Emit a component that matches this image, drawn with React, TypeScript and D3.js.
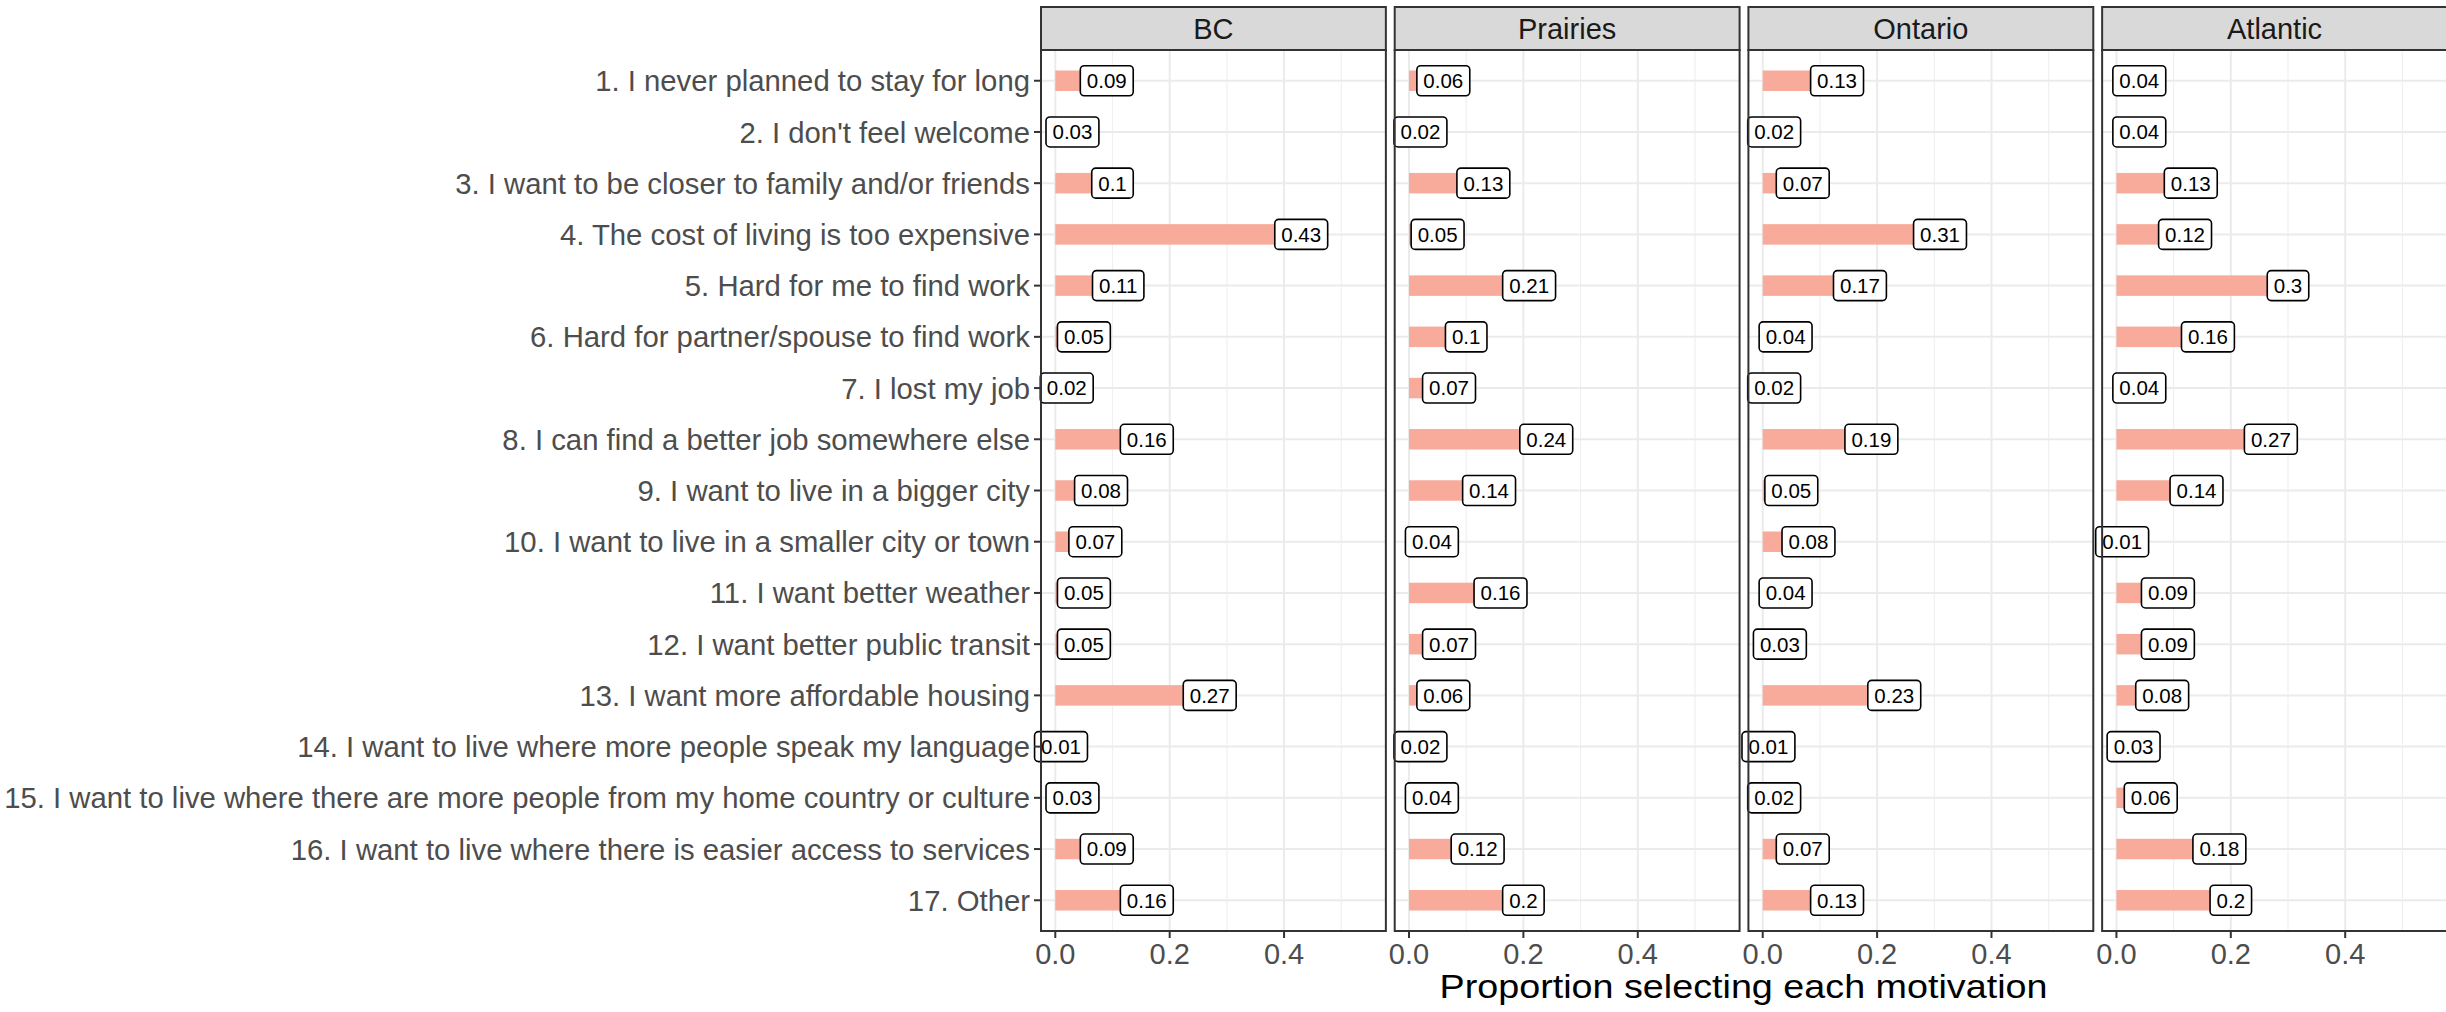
import { useEffect, useRef } from "react";
import * as d3 from "d3";

// categories (top to bottom)
const motivations = [
  "1. I never planned to stay for long",
  "2. I don't feel welcome",
  "3. I want to be closer to family and/or friends",
  "4. The cost of living is too expensive",
  "5. Hard for me to find work",
  "6. Hard for partner/spouse to find work",
  "7. I lost my job",
  "8. I can find a better job somewhere else",
  "9. I want to live in a bigger city",
  "10. I want to live in a smaller city or town",
  "11. I want better weather",
  "12. I want better public transit",
  "13. I want more affordable housing",
  "14. I want to live where more people speak my language",
  "15. I want to live where there are more people from my home country or culture",
  "16. I want to live where there is easier access to services",
  "17. Other",
];

const regions = ["BC", "Prairies", "Ontario", "Atlantic"];

const bcValues = [0.09, 0.03, 0.1, 0.43, 0.11, 0.05, 0.02, 0.16, 0.08, 0.07, 0.05, 0.05, 0.27, 0.01, 0.03, 0.09, 0.16];
const prairiesValues = [0.06, 0.02, 0.13, 0.05, 0.21, 0.1, 0.07, 0.24, 0.14, 0.04, 0.16, 0.07, 0.06, 0.02, 0.04, 0.12, 0.2];
const ontarioValues = [0.13, 0.02, 0.07, 0.31, 0.17, 0.04, 0.02, 0.19, 0.05, 0.08, 0.04, 0.03, 0.23, 0.01, 0.02, 0.07, 0.13];
const atlanticValues = [0.04, 0.04, 0.13, 0.12, 0.3, 0.16, 0.04, 0.27, 0.14, 0.01, 0.09, 0.09, 0.08, 0.03, 0.06, 0.18, 0.2];

const xTicks = [0, 0.2, 0.4];
const xMinorTicks = [0.1, 0.3, 0.5];
const axisTitle = "Proportion selecting each motivation";

export default function App() {
  const ref = useRef<SVGSVGElement>(null);

  useEffect(() => {
    const svg = d3.select(ref.current);
    svg.selectAll("*").remove();

    const font = "'Liberation Sans', Arial, sans-serif";
    const stripTop = 7;
    const panelTop = 50;
    const panelBottom = 931;

    const seriesByRegion: Record<string, number[]> = {
      BC: bcValues,
      Prairies: prairiesValues,
      Ontario: ontarioValues,
      Atlantic: atlanticValues,
    };

    // panels
    const panelScale = d3.scaleBand<string>()
      .domain(regions)
      .range([1041, 2447])
      .paddingInner(0.025);
    const panelW = panelScale.bandwidth();

    const yScale = d3.scaleBand<string>()
      .domain(motivations)
      .range([panelTop, panelBottom])
      .paddingInner(0.6)
      .paddingOuter(0.4);
    const yMid = (m: string) => (yScale(m) as number) + yScale.bandwidth() / 2;

    regions.forEach((region) => {
      const left = panelScale(region) as number;
      const xScale = d3.scaleLinear().domain([-0.025, 0.578]).range([left, left + panelW]);
      const g = svg.append("g");

      // background
      g.append("rect")
        .attr("x", left).attr("y", panelTop)
        .attr("width", panelW).attr("height", panelBottom - panelTop)
        .attr("fill", "white");

      // minor grid
      g.selectAll(".minor").data(xMinorTicks).enter().append("line")
        .attr("x1", d => xScale(d)).attr("x2", d => xScale(d))
        .attr("y1", panelTop).attr("y2", panelBottom)
        .attr("stroke", "#F0F0F0").attr("stroke-width", 1.2);

      // major grid
      g.selectAll(".major").data(xTicks).enter().append("line")
        .attr("x1", d => xScale(d)).attr("x2", d => xScale(d))
        .attr("y1", panelTop).attr("y2", panelBottom)
        .attr("stroke", "#EBEBEB").attr("stroke-width", 2);

      g.selectAll(".hgrid").data(motivations).enter().append("line")
        .attr("x1", left).attr("x2", left + panelW)
        .attr("y1", d => yMid(d)).attr("y2", d => yMid(d))
        .attr("stroke", "#EBEBEB").attr("stroke-width", 2);

      const vals = seriesByRegion[region];

      // bars
      g.selectAll(".bar").data(vals).enter().append("rect")
        .attr("x", xScale(0))
        .attr("y", (d, i) => yScale(motivations[i]) as number)
        .attr("width", d => xScale(d) - xScale(0))
        .attr("height", yScale.bandwidth())
        .attr("fill", "#F8AB9B");

      // labels
      vals.forEach((v, i) => {
        const cx = xScale(v);
        const cy = yMid(motivations[i]);
        const lg = g.append("g");
        const rect = lg.append("rect");
        const txt = lg.append("text")
          .attr("x", cx).attr("y", cy)
          .attr("dy", "0.36em")
          .attr("text-anchor", "middle")
          .attr("font-family", font)
          .attr("font-size", 20.5)
          .attr("fill", "black")
          .text(String(v));
        const tw = (txt.node() as SVGTextElement).getComputedTextLength();
        rect.attr("x", cx - tw / 2 - 6.5).attr("y", cy - 15)
          .attr("width", tw + 13).attr("height", 30)
          .attr("rx", 4).attr("ry", 4)
          .attr("fill", "white")
          .attr("stroke", "black").attr("stroke-width", 1.6);
      });

      // border
      g.append("rect")
        .attr("x", left).attr("y", panelTop)
        .attr("width", panelW).attr("height", panelBottom - panelTop)
        .attr("fill", "none").attr("stroke", "#333333").attr("stroke-width", 2);

      // strip
      g.append("rect")
        .attr("x", left).attr("y", stripTop)
        .attr("width", panelW).attr("height", panelTop - stripTop)
        .attr("fill", "#D9D9D9").attr("stroke", "#333333").attr("stroke-width", 2);
      g.append("text")
        .attr("x", left + panelW / 2).attr("y", (stripTop + panelTop) / 2)
        .attr("dy", "0.36em")
        .attr("text-anchor", "middle")
        .attr("font-family", font).attr("font-size", 29)
        .attr("fill", "#1A1A1A")
        .text(region);

      // x axis
      g.selectAll(".xtick").data(xTicks).enter().append("line")
        .attr("x1", d => xScale(d)).attr("x2", d => xScale(d))
        .attr("y1", panelBottom).attr("y2", panelBottom + 7)
        .attr("stroke", "#333333").attr("stroke-width", 2);
      g.selectAll(".xlab").data(xTicks).enter().append("text")
        .attr("x", d => xScale(d)).attr("y", 964)
        .attr("text-anchor", "middle")
        .attr("font-family", font).attr("font-size", 29)
        .attr("fill", "#4D4D4D")
        .text(d => d3.format(".1f")(d));
    });

    // y axis (left of first panel)
    const firstLeft = panelScale(regions[0]) as number;
    svg.selectAll(".ytick").data(motivations).enter().append("line")
      .attr("x1", firstLeft - 7).attr("x2", firstLeft)
      .attr("y1", d => yMid(d)).attr("y2", d => yMid(d))
      .attr("stroke", "#333333").attr("stroke-width", 2);
    svg.selectAll(".ylab").data(motivations).enter().append("text")
      .attr("x", firstLeft - 11).attr("y", d => yMid(d))
      .attr("dy", "0.36em")
      .attr("text-anchor", "end")
      .attr("font-family", font).attr("font-size", 29.3)
      .attr("fill", "#4D4D4D")
      .text(d => d);

    // axis title
    svg.append("text")
      .attr("x", (firstLeft + 2446) / 2).attr("y", 998)
      .attr("text-anchor", "middle")
      .attr("font-family", font).attr("font-size", 34)
      .attr("textLength", 608)
      .attr("lengthAdjust", "spacingAndGlyphs")
      .attr("fill", "black")
      .text(axisTitle);
  }, []);

  return (
    <svg ref={ref} width={2446} height={1012}
      style={{ position: "absolute", left: 0, top: 0, background: "white" }} />
  );
}
